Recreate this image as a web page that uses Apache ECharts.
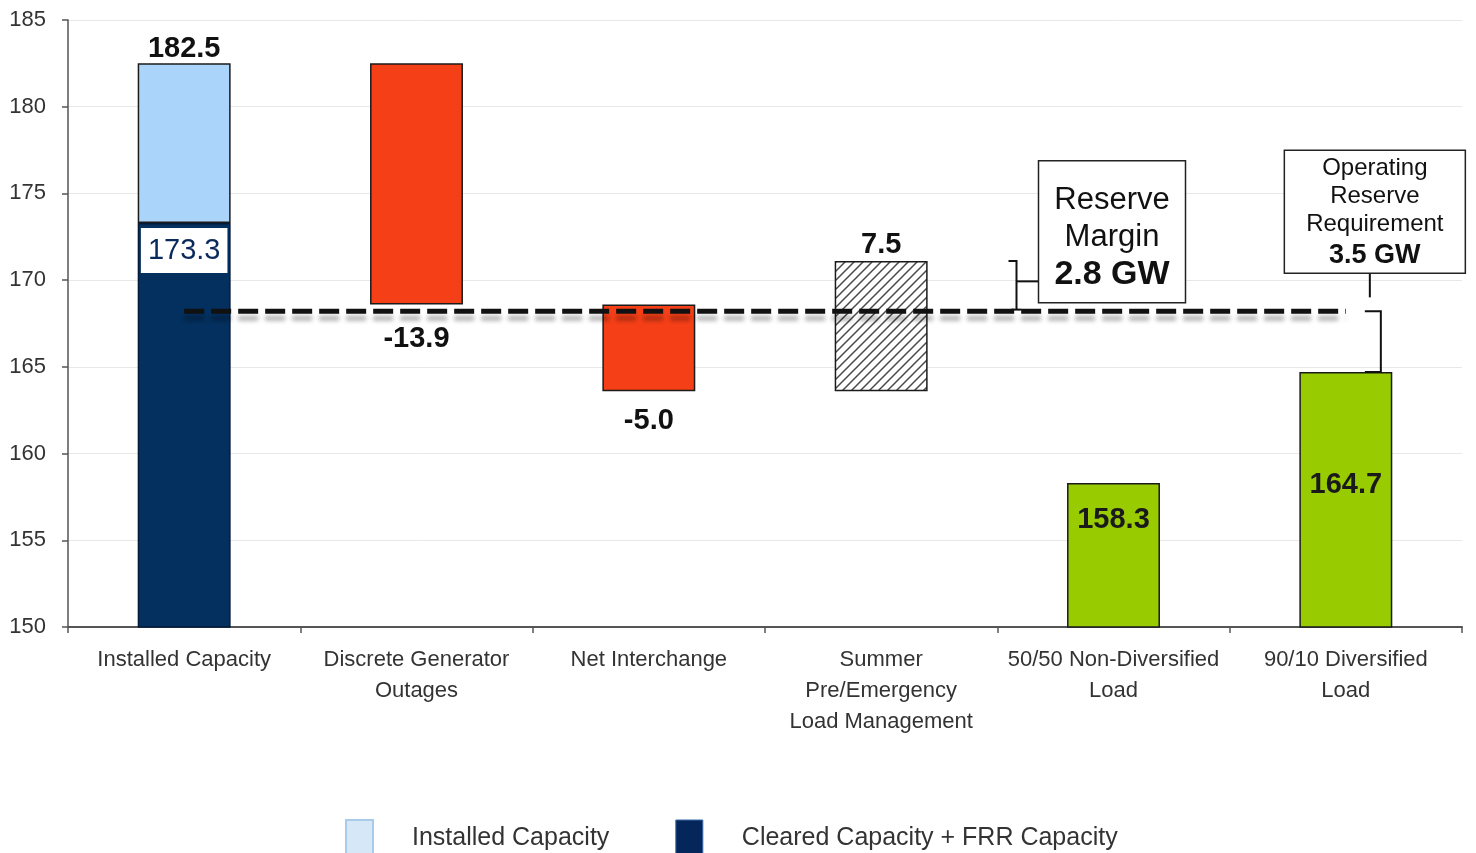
<!DOCTYPE html>
<html>
<head>
<meta charset="utf-8">
<script src="https://cdn.jsdelivr.net/npm/echarts@6/dist/echarts.min.js"></script>
<style>
  html, body { margin: 0; padding: 0; background: #fff; }
  #chart { width: 1476px; height: 853px; }
</style>
</head>
<body>
<div id="chart"></div>
<script>
// ---- data (GW) ----
const categories = [
  'Installed Capacity',
  'Discrete Generator\nOutages',
  'Net Interchange',
  'Summer\nPre/Emergency\nLoad Management',
  '50/50 Non-Diversified\nLoad',
  '90/10 Diversified\nLoad'
];
const installedCapacity = 182.5;
const clearedCapacity = 173.3;
// changes applied to installed capacity, categories 1..3
const adjustments = [-13.9, -5.0, 7.5];
// peak loads, categories 4..5
const loads = [158.3, 164.7];
const reserveMargin = 2.8;
const operatingReserve = 3.5;
const yMin = 150, yMax = 185, yStep = 5;

const FONT = '"Liberation Sans", Arial, sans-serif';

// diagonal hatch fill for load management
function hatchPattern() {
  const c = document.createElement('canvas');
  c.width = 9; c.height = 9;
  const g = c.getContext('2d');
  g.fillStyle = '#ffffff';
  g.fillRect(0, 0, 9, 9);
  g.strokeStyle = '#4a4a4a';
  g.lineWidth = 1.5;
  g.beginPath();
  g.moveTo(-2, 11); g.lineTo(11, -2);
  g.moveTo(-6.5, 6.5); g.lineTo(6.5, -6.5);
  g.moveTo(2.5, 15.5); g.lineTo(15.5, 2.5);
  g.stroke();
  return c;
}

// ---- waterfall construction ----
const n = categories.length;
const blank = () => new Array(n).fill('-');
const base = blank();
const cleared = blank();
const installedTop = blank();
const decreases = blank();
const increases = blank();
const loadBars = blank();

cleared[0] = clearedCapacity;
installedTop[0] = +(installedCapacity - clearedCapacity).toFixed(1);

let level = installedCapacity;
const labelDist = [20, 15, 2];
adjustments.forEach((d, k) => {
  const i = k + 1;
  base[i] = +(d < 0 ? level + d : level).toFixed(1);
  const item = {
    value: Math.abs(d),
    label: {
      show: true,
      position: d < 0 ? 'bottom' : 'top',
      distance: labelDist[k],
      formatter: d.toFixed(1),
      fontFamily: FONT, fontSize: 29, fontWeight: 'bold', color: '#111'
    }
  };
  if (d < 0) decreases[i] = item; else increases[i] = item;
  level = +(level + d).toFixed(1);
});
const afterAdjustments = level;

const loadLabelDist = [22, 98];
loads.forEach((v, k) => {
  loadBars[k + 4] = {
    value: v,
    label: {
      show: true, position: 'insideTop', distance: loadLabelDist[k],
      formatter: v.toFixed(1),
      fontFamily: FONT, fontSize: 29, fontWeight: 'bold', color: '#1a1a1a'
    }
  };
});

const reserveLevel = +(loads[1] + operatingReserve).toFixed(1);
const reserveLine = categories.map(() => reserveLevel);

const edge = { borderColor: '#1b1b1b', borderWidth: 1.5 };

const option = {
  animation: false,
  backgroundColor: '#ffffff',
  grid: { left: 68, right: 14, top: 20, bottom: 226, containLabel: false },
  legend: {
    data: [
      { name: 'Installed Capacity', itemStyle: { color: '#d6e8f8', borderColor: '#a9cbe9', borderWidth: 2 } },
      { name: 'Cleared Capacity + FRR Capacity', itemStyle: { color: '#04265a', borderColor: '#3b6aa8', borderWidth: 1 } }
    ],
    icon: 'rect',
    left: 340, top: 814,
    itemWidth: 27, itemHeight: 36, itemGap: 66,
    textStyle: { fontFamily: FONT, fontSize: 25, color: '#333', padding: [0, 0, 0, 34] }
  },
  xAxis: {
    type: 'category',
    data: categories,
    axisLine: { lineStyle: { color: '#555', width: 2 } },
    axisTick: { show: true, length: 6, interval: 0, lineStyle: { color: '#555', width: 1.5 } },
    axisLabel: { interval: 0, fontFamily: FONT, fontSize: 22, lineHeight: 31, color: '#333', margin: 17 },
    splitLine: { show: false }
  },
  yAxis: {
    type: 'value',
    min: yMin, max: yMax, interval: yStep,
    axisLine: { show: true, lineStyle: { color: '#555', width: 1.5 } },
    axisTick: { show: true, length: 6, lineStyle: { color: '#555', width: 1.5 } },
    axisLabel: { fontFamily: FONT, fontSize: 22, color: '#333', margin: 22 },
    splitLine: { lineStyle: { color: '#e8e8e8', width: 1 } }
  },
  series: [
    { name: 'base', type: 'bar', stack: 'w', barWidth: '40%', data: base,
      itemStyle: { color: 'transparent' }, silent: true },
    { name: 'Cleared Capacity + FRR Capacity', type: 'bar', stack: 'w', data: cleared,
      itemStyle: { color: '#04305f', borderColor: '#021a38', borderWidth: 1.5 },
      label: {
        show: true, position: 'insideTop', distance: 5,
        formatter: p => p.value.toFixed(1),
        fontFamily: FONT, fontSize: 29, color: '#0b2a5c',
        backgroundColor: '#ffffff', padding: [9, 7, 7, 7]
      } },
    { name: 'Installed Capacity', type: 'bar', stack: 'w', data: installedTop,
      itemStyle: Object.assign({ color: '#abd4fb' }, edge),
      label: {
        show: true, position: 'top', distance: 0,
        formatter: () => installedCapacity.toFixed(1),
        fontFamily: FONT, fontSize: 29, fontWeight: 'bold', color: '#111'
      } },
    { name: 'Decrease', type: 'bar', stack: 'w', data: decreases,
      itemStyle: Object.assign({ color: '#f53f17' }, edge) },
    { name: 'Load Management', type: 'bar', stack: 'w', data: increases,
      itemStyle: Object.assign({ color: { image: hatchPattern(), repeat: 'repeat' } }, edge) },
    { name: 'Peak Load', type: 'bar', stack: 'w', data: loadBars,
      itemStyle: Object.assign({ color: '#99cc00' }, edge) },
    { name: 'Reserve Level', type: 'line', data: reserveLine, symbol: 'none', z: 5, silent: true,
      lineStyle: {
        color: '#111', width: 5, type: [20, 7],
        shadowColor: 'rgba(0,0,0,0.3)', shadowBlur: 4, shadowOffsetY: 7
      } }
  ]
};

const chart = echarts.init(document.getElementById('chart'), null, { renderer: 'canvas' });
chart.setOption(option);

// ---- reserve annotations, anchored to the axes ----
const P = (i, v) => chart.convertToPixel({ xAxisIndex: 0, yAxisIndex: 0 }, [i, v]);
const x4 = P(4, yMin)[0];
const x5 = P(5, yMin)[0];
const yAdj = P(3, afterAdjustments)[1];
const yMarginLow = P(3, afterAdjustments - reserveMargin)[1];
const yRes = P(5, reserveLevel)[1];
const yLoad = P(5, loads[1])[1];

const lineStyle = { stroke: '#111', lineWidth: 2, fill: null };
const bx = x4 - 97;
const rmMid = (yAdj + yMarginLow) / 2 - 4;
const rmBox = { x: bx + 22, w: 147, h: 142 };
rmBox.y = yMarginLow - 7 - rmBox.h;

const orCx = x5 + 24;
const orBox = { w: 181, h: 123 };
orBox.x = orCx - orBox.w / 2 + 5;
orBox.y = yRes - 38 - orBox.h;
const brX = x5 + 35;

const textStyleRich = {
  n: { fontFamily: FONT, fontSize: 31, lineHeight: 37, fill: '#111' },
  b: { fontFamily: FONT, fontSize: 34, lineHeight: 37, fontWeight: 'bold', fill: '#111' },
  s: { fontFamily: FONT, fontSize: 24, lineHeight: 28, fill: '#111' },
  sb: { fontFamily: FONT, fontSize: 27, lineHeight: 34, fontWeight: 'bold', fill: '#111' }
};

chart.setOption({
  graphic: [
    // reserve margin bracket
    { type: 'polyline', shape: { points: [[bx - 8, yAdj], [bx, yAdj], [bx, yMarginLow]] }, style: lineStyle, z: 10 },
    { type: 'polyline', shape: { points: [[bx - 5, yMarginLow], [bx + 5, yMarginLow]] }, style: lineStyle, z: 10 },
    { type: 'polyline', shape: { points: [[bx, rmMid], [rmBox.x, rmMid]] }, style: lineStyle, z: 10 },
    { type: 'rect', shape: { x: rmBox.x, y: rmBox.y, width: rmBox.w, height: rmBox.h },
      style: { fill: '#fff', stroke: '#222', lineWidth: 1.5 }, z: 10 },
    { type: 'text', x: rmBox.x + rmBox.w / 2, y: rmBox.y + rmBox.h / 2 + 6, z: 11,
      style: { text: '{n|Reserve}\n{n|Margin}\n{b|' + reserveMargin.toFixed(1) + ' GW}',
               rich: textStyleRich, align: 'center', verticalAlign: 'middle' } },
    // operating reserve bracket
    { type: 'polyline', shape: { points: [[orCx, orBox.y + orBox.h], [orCx, yRes - 14]] }, style: lineStyle, z: 10 },
    { type: 'polyline', shape: { points: [[brX - 16, yRes], [brX, yRes], [brX, yLoad], [brX - 16, yLoad]] }, style: lineStyle, z: 10 },
    { type: 'rect', shape: { x: orBox.x, y: orBox.y, width: orBox.w, height: orBox.h },
      style: { fill: '#fff', stroke: '#222', lineWidth: 1.5 }, z: 10 },
    { type: 'text', x: orBox.x + orBox.w / 2, y: orBox.y + orBox.h / 2 + 2, z: 11,
      style: { text: '{s|Operating}\n{s|Reserve}\n{s|Requirement}\n{sb|' + operatingReserve.toFixed(1) + ' GW}',
               rich: textStyleRich, align: 'center', verticalAlign: 'middle' } }
  ]
});
</script>
</body>
</html>
